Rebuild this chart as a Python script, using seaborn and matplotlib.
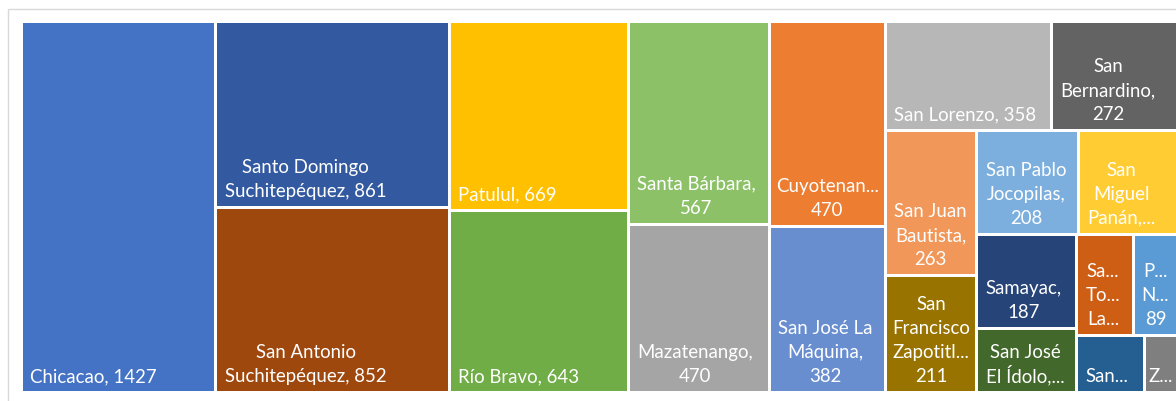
import matplotlib
matplotlib.use("Agg")
import matplotlib.pyplot as plt
from matplotlib.patches import Rectangle
import seaborn as sns

# ---------------- data ----------------
municipios = [
    "Chicacao", "Santo Domingo Suchitepéquez", "San Antonio Suchitepéquez",
    "Patulul", "Río Bravo", "Santa Bárbara", "Mazatenango", "Cuyotenango",
    "San José La Máquina", "San Lorenzo", "San Bernardino", "San Juan Bautista",
    "San Francisco Zapotitlán", "San Pablo Jocopilas", "San Miguel Panán",
    "Samayac", "San José El Ídolo", "Santo Tomás La Unión", "Pueblo Nuevo",
    "San Gabriel", "Zunilito",
]
valores = [1427, 861, 852, 669, 643, 567, 470, 470, 382, 358, 272, 263,
           211, 208, 203, 187, 126, 114, 89, 76, 37]
# data labels as wrapped / truncated by the original chart ({v} = value)
etiquetas = [
    "Chicacao, {v}", "Santo Domingo\nSuchitepéquez, {v}",
    "San Antonio\nSuchitepéquez, {v}", "Patulul, {v}", "Río Bravo, {v}",
    "Santa Bárbara,\n{v}", "Mazatenango,\n{v}", "Cuyotenan...\n{v}",
    "San José La\nMáquina,\n{v}", "San Lorenzo, {v}", "San\nBernardino,\n{v}",
    "San Juan\nBautista,\n{v}", "San\nFrancisco\nZapotitl...\n{v}",
    "San Pablo\nJocopilas,\n{v}", "San\nMiguel\nPanán,...", "Samayac,\n{v}",
    "San José\nEl Ídolo,...", "Sa...\nTo...\nLa...", "P...\nN...\n{v}",
    "San...", "Z...",
]
colores = [
    "#4472C4", "#335AA1", "#9E480E", "#FFC000", "#70AD47", "#8CC168",
    "#A5A5A5", "#ED7D31", "#698ED0", "#B7B7B7", "#636363", "#F1975A",
    "#997300", "#7CAFDD", "#FFCD33", "#264478", "#43682B", "#CF5E15",
    "#5B9BD5", "#255E91", "#7F7F7F",
]
# number of items in each strip of the squarified layout
tiras = [1, 2, 2, 2, 2, 2, 2, 2, 2, 2, 1, 1]

# ---------------- style ----------------
sns.set_theme(style="white")
plt.rcParams["font.family"] = ["Lato", "DejaVu Sans"]

W_PX, H_PX = 1176, 401
fig = plt.figure(figsize=(W_PX / 100, H_PX / 100), dpi=100)
ax = fig.add_axes([0, 0, 1, 1])
ax.set_xlim(0, W_PX)
ax.set_ylim(H_PX, 0)
ax.axis("off")

# chart frame (extends past the cropped right/bottom edges)
ax.add_patch(Rectangle((7.5, 8.5), 1300, 500, fill=False,
                       edgecolor="#D9D9D9", lw=1.0))

X0, Y0, PW, PH = 21.5, 21.5, 1156, 371
GAP = 3.0
FS = 13.4
PADX, PADB, LINE_H = 7.5, 9.0, 24.0


def squarify_layout(values, x, y, w, h, strips):
    rects = []
    remaining = float(sum(values))
    i = 0
    for n in strips:
        grp = values[i:i + n]
        s = float(sum(grp))
        if w >= h:
            cw = w * s / remaining
            yy = y
            for v in grp:
                hh = h * v / s
                rects.append((x, yy, cw, hh))
                yy += hh
            x += cw
            w -= cw
        else:
            rh = h * s / remaining
            xx = x
            for v in grp:
                ww = w * v / s
                rects.append((xx, y, ww, rh))
                xx += ww
            y += rh
            h -= rh
        remaining -= s
        i += n
    return rects


renderer = fig.canvas.get_renderer()


def text_w(s):
    t = ax.text(0, 0, s, fontsize=FS)
    w = t.get_window_extent(renderer).width
    t.remove()
    return w


rects = squarify_layout(valores, X0, Y0, PW, PH, tiras)

for (x, y, w, h), lab, val, col in zip(rects, etiquetas, valores, colores):
    xi, yi, wi, hi = x + GAP / 2, y + GAP / 2, w - GAP, h - GAP
    ax.add_patch(Rectangle((xi, yi), wi, hi, facecolor=col, edgecolor="none"))
    lines = lab.format(v=val).split("\n")
    bw = max(text_w(l) for l in lines)
    pad = min(PADX, max((wi - bw) / 2, 1.0))
    cx = xi + pad + bw / 2
    base = yi + hi - PADB
    for k, line in enumerate(reversed(lines)):
        ax.text(cx, base - k * LINE_H, line, ha="center", va="baseline",
                color="white", fontsize=FS)

fig.savefig("out.png", dpi=100, facecolor="white")
